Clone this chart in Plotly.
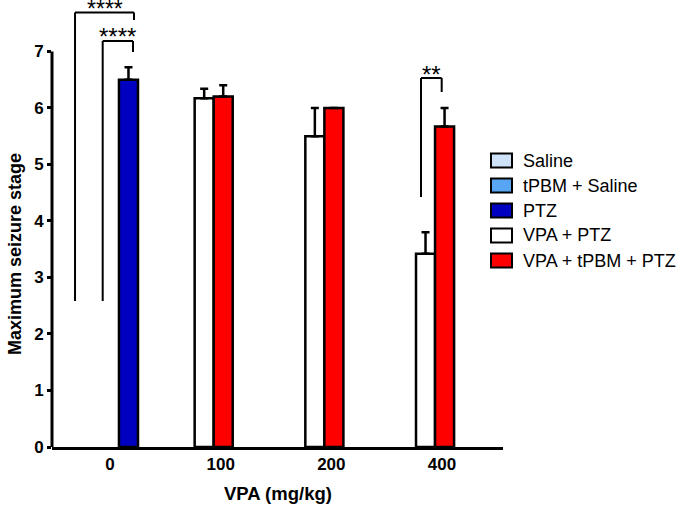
import plotly.graph_objects as go

# ---------------- data ----------------
categories = ["0", "100", "200", "400"]
series_names = ["Saline", "tPBM + Saline", "PTZ", "VPA + PTZ", "VPA + tPBM + PTZ"]

saline = [0, None, None, None]
tpbm_saline = [0, None, None, None]
ptz = [6.5, None, None, None]
vpa_ptz = [None, 6.17, 5.5, 3.42]
vpa_tpbm_ptz = [None, 6.2, 6.0, 5.67]

sem_saline = [0, None, None, None]
sem_tpbm_saline = [0, None, None, None]
sem_ptz = [0.22, None, None, None]
sem_vpa_ptz = [None, 0.17, 0.5, 0.38]
sem_vpa_tpbm_ptz = [None, 0.2, 0.0, 0.33]

y_ticks = [0, 1, 2, 3, 4, 5, 6, 7]
x_title = "VPA (mg/kg)"
y_title = "Maximum seizure stage"
sig_labels = ["****", "****", "**"]

# ---------------- styling ----------------
colors = ["#cfe3f8", "#58a6f3", "#0000c0", "#ffffff", "#ff0000"]
values = [saline, tpbm_saline, ptz, vpa_ptz, vpa_tpbm_ptz]
sems = [sem_saline, sem_tpbm_saline, sem_ptz, sem_vpa_ptz, sem_vpa_tpbm_ptz]
BW = 0.172
offsets = [-0.316 - BW / 2, -0.072 - BW / 2, 0.081, -0.235, -0.235 + BW]

W, H = 685, 505
PL, PR, PT, PB = 52, 503, 9, 447
Y_TOP = 7.75

def pxx(px):
    return (px - PL) / (PR - PL)

def pxy(py):
    return (PB - py) / (PB - PT)

def ydat(py):
    return (PB - py) / (PB - PT) * Y_TOP

fig = go.Figure()
for name, vals, err, col, off in zip(series_names, values, sems, colors, offsets):
    all_zero = all((v or 0) == 0 for v in vals)
    fig.add_trace(go.Bar(
        x=categories, y=vals, name=name,
        offset=off, width=BW,
        marker=dict(color=col, line=dict(color="black", width=0 if all_zero else 2.5)),
        error_y=dict(type="data", array=err, arrayminus=[0 if e is not None else None for e in err],
                     symmetric=False, color="black", thickness=2.5, width=4,
                     visible=not all_zero),
        showlegend=False,
    ))

shapes = []
# y axis line from 0 to 7
shapes.append(dict(type="line", xref="paper", yref="y", x0=0, x1=0, y0=0, y1=max(y_ticks),
                   line=dict(color="black", width=3)))

def bracket(xl, xr, yh, yl_left, yl_right):
    ln = dict(color="black", width=2)
    return [
        dict(type="line", xref="x", yref="y", x0=xl, x1=xl, y0=yl_left, y1=yh, line=ln),
        dict(type="line", xref="x", yref="y", x0=xl, x1=xr, y0=yh, y1=yh, line=ln),
        dict(type="line", xref="x", yref="y", x0=xr, x1=xr, y0=yh, y1=yl_right, line=ln),
    ]

brackets = [
    (-0.316, 0.217, ydat(12.5), ydat(301), ydat(20)),
    (-0.066, 0.208, ydat(41), ydat(301), ydat(52)),
    (2.81, 2.997, ydat(78), ydat(197), ydat(92)),
]
annotations = []
star_py = [9, 36, 74.5]
star_sizes = [23, 24, 24]
for (xl, xr, yh, a, b), lab, sp, ss in zip(brackets, sig_labels, star_py, star_sizes):
    shapes += bracket(xl, xr, yh, a, b)
    annotations.append(dict(x=(xl + xr) / 2, y=pxy(sp), xref="x", yref="paper", text=lab,
                            showarrow=False, xanchor="center", yanchor="middle",
                            font=dict(family="Liberation Sans", size=ss, color="black")))

# manual legend
for i, (name, col) in enumerate(zip(series_names, colors)):
    cy = 160.5 + 25 * i
    shapes.append(dict(type="rect", xref="paper", yref="paper",
                       x0=pxx(491), x1=pxx(512), y0=pxy(cy + 7), y1=pxy(cy - 7),
                       fillcolor=col, line=dict(color="black", width=2)))
    annotations.append(dict(x=pxx(521), y=pxy(cy), xref="paper", yref="paper", text=name,
                            showarrow=False, xanchor="left", yanchor="middle",
                            font=dict(family="Liberation Sans", size=18, color="black")))

annotations.append(dict(x=pxx(15), y=pxy(254), xref="paper", yref="paper", text=y_title,
                        textangle=-90, showarrow=False, xanchor="center", yanchor="middle",
                        font=dict(family="Liberation Sans", size=18, color="black", weight="bold")))
annotations.append(dict(x=0.5, y=pxy(494), xref="paper", yref="paper", text=x_title,
                        showarrow=False, xanchor="center", yanchor="middle",
                        font=dict(family="Liberation Sans", size=18.5, color="black", weight="bold")))

fig.update_layout(
    width=W, height=H,
    margin=dict(l=PL, r=W - PR, t=PT, b=H - PB, pad=0),
    paper_bgcolor="white", plot_bgcolor="white",
    barmode="overlay",
    shapes=shapes, annotations=annotations,
    xaxis=dict(type="category", range=[-0.524, 3.551], showline=True, linecolor="black", linewidth=3,
               ticks="", showgrid=False, zeroline=False,
               tickfont=dict(family="Liberation Sans", size=17, color="black", weight="bold")),
    yaxis=dict(range=[0, Y_TOP], tickvals=y_ticks, ticks="outside", ticklen=4, tickwidth=3,
               tickcolor="black", showline=False, showgrid=False, zeroline=False,
               tickfont=dict(family="Liberation Sans", size=17, color="black", weight="bold")),
)

fig.write_html("out.html", config={"displayModeBar": False},
               post_script="document.body.style.margin='0';document.body.style.padding='0';")
